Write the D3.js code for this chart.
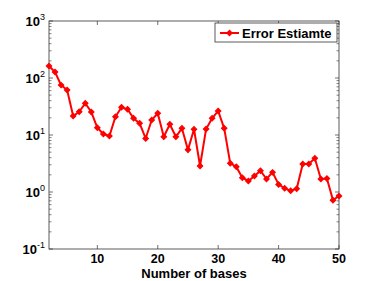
<!DOCTYPE html>
<html>
<head>
<meta charset="utf-8">
<script src="https://cdn.jsdelivr.net/npm/d3@7"></script>
<style>
  body { margin: 0; background: #fff; }
  text { font-family: "Liberation Sans", Arial, Helvetica, sans-serif; font-weight: bold; }
</style>
</head>
<body>
<div id="chart"></div>
<script>
// number of bases (x) and error estimate (y)
const bases = d3.range(2, 51);
const errorEstimate = [
  162, 127, 75, 61.5, 21.5, 25.6, 36, 25.3, 13.4, 10.4,
  9.6, 21, 30.6, 28.3, 19.6, 16, 8.7, 18.3, 24, 9.3,
  15.4, 9.3, 13.1, 5.5, 12.6, 2.86, 12.7, 19.6, 26.4, 13.1,
  3.18, 2.78, 1.78, 1.56, 1.91, 2.37, 1.69, 2.21, 1.36, 1.16,
  1.05, 1.14, 3.1, 3.1, 3.9, 1.69, 1.72, 0.72, 0.85
];
const xTicks = [10, 20, 30, 40, 50];
const yDecades = [-1, 0, 1, 2, 3];
const seriesName = "Error Estiamte";

const W = 374, H = 281;
const margin = { left: 49, right: 35, top: 21, bottom: 32 };

let svg = d3.select("#chart").append("svg").attr("width", W).attr("height", H);

let x = d3.scaleLinear().domain([2, 50]).range([margin.left, W - margin.right]);
let y = d3.scaleLog().domain([0.1, 1000]).range([H - margin.bottom, margin.top]);

const x0 = x.range()[0], x1 = x.range()[1];
const y0 = y.range()[0], y1 = y.range()[1];
const axisColor = "#333";

// minor + major y ticks (inward, both sides)
let yMinor = [];
yDecades.slice(0, -1).forEach(function (e) {
  for (let k = 2; k <= 9; k++) yMinor.push(k * Math.pow(10, e));
});
let yMajor = yDecades.map(function (e) { return Math.pow(10, e); });

let g = svg.append("g");
yMinor.forEach(function (v) {
  g.append("line").attr("x1", x0).attr("x2", x0 + 2.5).attr("y1", y(v)).attr("y2", y(v)).attr("stroke", axisColor).attr("stroke-width", 0.6);
  g.append("line").attr("x1", x1).attr("x2", x1 - 2.5).attr("y1", y(v)).attr("y2", y(v)).attr("stroke", axisColor).attr("stroke-width", 0.6);
});
yMajor.forEach(function (v) {
  g.append("line").attr("x1", x0).attr("x2", x0 + 4).attr("y1", y(v)).attr("y2", y(v)).attr("stroke", axisColor).attr("stroke-width", 0.7);
  g.append("line").attr("x1", x1).attr("x2", x1 - 4).attr("y1", y(v)).attr("y2", y(v)).attr("stroke", axisColor).attr("stroke-width", 0.7);
});
xTicks.forEach(function (v) {
  g.append("line").attr("x1", x(v)).attr("x2", x(v)).attr("y1", y0).attr("y2", y0 - 4).attr("stroke", axisColor).attr("stroke-width", 0.7);
  g.append("line").attr("x1", x(v)).attr("x2", x(v)).attr("y1", y1).attr("y2", y1 + 4).attr("stroke", axisColor).attr("stroke-width", 0.7);
});

// box
svg.append("rect").attr("x", x0).attr("y", y1).attr("width", x1 - x0).attr("height", y0 - y1)
  .attr("fill", "none").attr("stroke", axisColor).attr("stroke-width", 0.8);

// x tick labels
svg.selectAll(".xlab").data(xTicks).enter().append("text")
  .attr("x", function (d) { return x(d); }).attr("y", y0 + 14)
  .attr("text-anchor", "middle").attr("font-size", 12.5).text(function (d) { return d; });

// y tick labels 10^e
yDecades.forEach(function (e) {
  let t = svg.append("text").attr("x", x0 - 4).attr("y", y(Math.pow(10, e)) + 5)
    .attr("text-anchor", "end").attr("font-size", 13);
  t.append("tspan").text("10");
  t.append("tspan").attr("dy", -6).attr("font-size", 9).attr("font-weight", "normal").text(e);
});

// x axis label
svg.append("text").attr("x", (x0 + x1) / 2).attr("y", H - 3).attr("text-anchor", "middle")
  .attr("font-size", 13).text("Number of bases");

// line + markers
let line = d3.line().x(function (d, i) { return x(bases[i]); }).y(function (d) { return y(d); });
svg.append("path").datum(errorEstimate).attr("d", line).attr("fill", "none")
  .attr("stroke", "#ff0000").attr("stroke-width", 2);

let diamond = d3.symbol().type(d3.symbolSquare).size(14);
svg.selectAll(".pt").data(errorEstimate).enter().append("path")
  .attr("d", diamond)
  .attr("transform", function (d, i) { return "translate(" + x(bases[i]) + "," + y(d) + ") rotate(45)"; })
  .attr("fill", "#ff0000").attr("stroke", "#ff0000").attr("stroke-width", 1.2);

// legend
let lg = svg.append("g").attr("transform", "translate(215,23)");
lg.append("rect").attr("width", 122).attr("height", 19).attr("fill", "#fff").attr("stroke", axisColor).attr("stroke-width", 0.8);
lg.append("line").attr("x1", 5).attr("x2", 24).attr("y1", 10).attr("y2", 10).attr("stroke", "#ff0000").attr("stroke-width", 2);
lg.append("path").attr("d", diamond).attr("transform", "translate(14.5,10) rotate(45)").attr("fill", "#ff0000").attr("stroke", "#ff0000").attr("stroke-width", 1.2);
lg.append("text").attr("x", 27).attr("y", 15).attr("font-size", 13).text(seriesName);
</script>
</body>
</html>
